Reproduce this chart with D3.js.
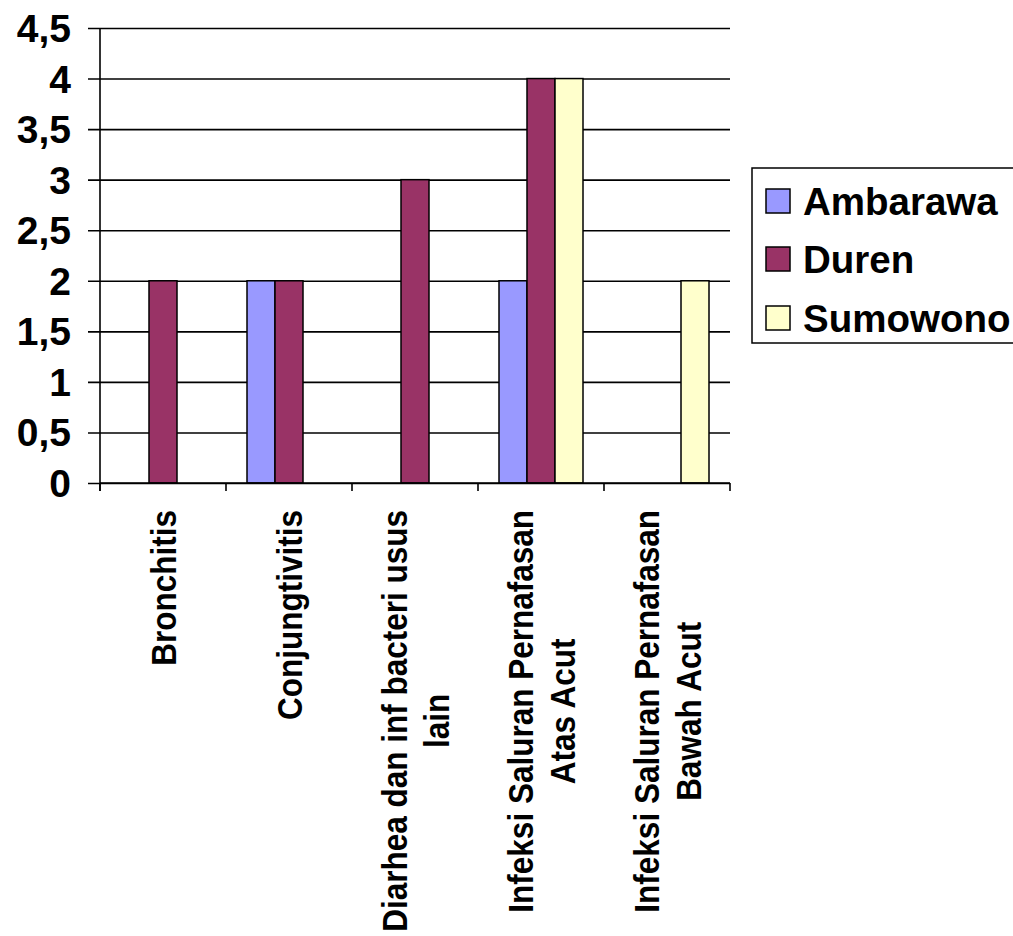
<!DOCTYPE html>
<html>
<head>
<meta charset="utf-8">
<script src="https://cdn.jsdelivr.net/npm/d3@7"></script>
<style>
  html, body { margin: 0; padding: 0; background: #fff; }
  svg { display: block; }
  text { font-family: "Liberation Sans", Arial, sans-serif; font-weight: bold; fill: #000; }
</style>
</head>
<body>
<svg id="chart" width="1013" height="936"></svg>
<script>
// Disease categories (each entry split into its display lines)
const categories = [
  "Bronchitis",
  "Conjungtivitis",
  "Diarhea dan inf bacteri usus lain",
  "Infeksi Saluran Pernafasan Atas Acut",
  "Infeksi Saluran Pernafasan Bawah Acut"
];
const categoryLines = [
  ["Bronchitis"],
  ["Conjungtivitis"],
  ["Diarhea dan inf bacteri usus", "lain"],
  ["Infeksi Saluran Pernafasan", "Atas Acut"],
  ["Infeksi Saluran Pernafasan", "Bawah Acut"]
];

// Case counts per location
const seriesNames = ["Ambarawa", "Duren", "Sumowono"];
const ambarawa = [0, 2, 0, 2, 0];
const duren    = [2, 2, 3, 4, 0];
const sumowono = [0, 0, 0, 4, 2];
const seriesColors = ["#9999FF", "#993366", "#FFFFCC"];

const yTicks = [0, 0.5, 1, 1.5, 2, 2.5, 3, 3.5, 4, 4.5];
const yTickLabels = ["0", "0,5", "1", "1,5", "2", "2,5", "3", "3,5", "4", "4,5"];

const seriesValues = [ambarawa, duren, sumowono];

const svg = d3.select("#chart");

const plot = { left: 100, right: 730, top: 28, bottom: 483 };

const x = d3.scaleBand()
  .domain(categories)
  .range([plot.left, plot.right])
  .paddingInner(0).paddingOuter(0);

const bw = x.bandwidth();
const groupW = bw * 2 / 3;
const xs = d3.scaleBand()
  .domain(seriesNames)
  .range([(bw - groupW) / 2, (bw + groupW) / 2]);

const y = d3.scaleLinear().domain([0, 4.5]).range([plot.bottom, plot.top]);

// Horizontal gridlines with outward ticks
const yAxis = d3.axisLeft(y)
  .tickValues(yTicks)
  .tickSize(-(plot.right - plot.left))
  .tickFormat("");
const gy = svg.append("g").attr("transform", `translate(${plot.left},0)`).call(yAxis);
gy.select(".domain").remove();
gy.selectAll(".tick line")
  .attr("x1", -12)
  .attr("stroke", "#000").attr("stroke-width", 1.6);

// Y tick labels
svg.append("g").selectAll("text")
  .data(yTicks)
  .join("text")
  .attr("x", 71)
  .attr("y", d => y(d))
  .attr("dy", "0.36em")
  .attr("text-anchor", "end")
  .attr("font-size", 39)
  .text((d, i) => yTickLabels[i]);

// Bars
const rows = [];
categories.forEach((c, ci) => {
  seriesNames.forEach((s, si) => {
    rows.push({ cat: c, series: s, si, value: seriesValues[si][ci] });
  });
});
svg.append("g").selectAll("rect")
  .data(rows.filter(d => d.value > 0))
  .join("rect")
  .attr("x", d => x(d.cat) + xs(d.series))
  .attr("y", d => y(d.value))
  .attr("width", xs.bandwidth())
  .attr("height", d => y(0) - y(d.value))
  .attr("fill", d => seriesColors[d.si])
  .attr("stroke", "#000")
  .attr("stroke-width", 1.5);

// Y axis line
svg.append("line")
  .attr("x1", plot.left).attr("x2", plot.left)
  .attr("y1", y(4.5)).attr("y2", plot.bottom + 8)
  .attr("stroke", "#000").attr("stroke-width", 1.6);

// X axis baseline and category ticks
svg.append("line")
  .attr("x1", plot.left).attr("x2", plot.right)
  .attr("y1", plot.bottom).attr("y2", plot.bottom)
  .attr("stroke", "#000").attr("stroke-width", 1.6);
const xTickPos = categories.map(c => x(c)).concat([plot.right]);
svg.append("g").selectAll("line")
  .data(xTickPos)
  .join("line")
  .attr("x1", d => d).attr("x2", d => d)
  .attr("y1", plot.bottom).attr("y2", plot.bottom + 8)
  .attr("stroke", "#000").attr("stroke-width", 1.6);

// Rotated category labels, the longest line ending just below the axis
const labelTop = 510;
const lineGap = 42;
const fontX = 31.5;
categoryLines.forEach((lines, ci) => {
  const cx = x(categories[ci]) + bw / 2;
  const g = svg.append("g");
  const texts = lines.map((ln, li) =>
    g.append("text")
      .attr("font-size", fontX)
      .attr("text-anchor", "middle")
      .text(ln)
  );
  const maxLen = d3.max(texts, t => t.node().getComputedTextLength());
  const cy = labelTop + maxLen / 2;
  texts.forEach((t, li) => {
    const off = (li - (lines.length - 1) / 2) * lineGap;
    const px = cx + off;
    t.attr("transform", `translate(${px},${cy}) rotate(-90) scale(1,1.12)`)
     .attr("dy", "0.36em");
  });
});

// Legend
const legend = svg.append("g");
legend.append("rect")
  .attr("x", 752).attr("y", 168)
  .attr("width", 275).attr("height", 175)
  .attr("fill", "#fff").attr("stroke", "#000").attr("stroke-width", 1.5);
const legendY = [201, 259, 318];
seriesNames.forEach((s, i) => {
  legend.append("rect")
    .attr("x", 766).attr("y", legendY[i] - 12)
    .attr("width", 24).attr("height", 24)
    .attr("fill", seriesColors[i])
    .attr("stroke", "#000").attr("stroke-width", 1.5);
  legend.append("text")
    .attr("x", 803).attr("y", legendY[i])
    .attr("dy", "0.36em")
    .attr("font-size", 38.5)
    .text(s);
});
</script>
</body>
</html>
